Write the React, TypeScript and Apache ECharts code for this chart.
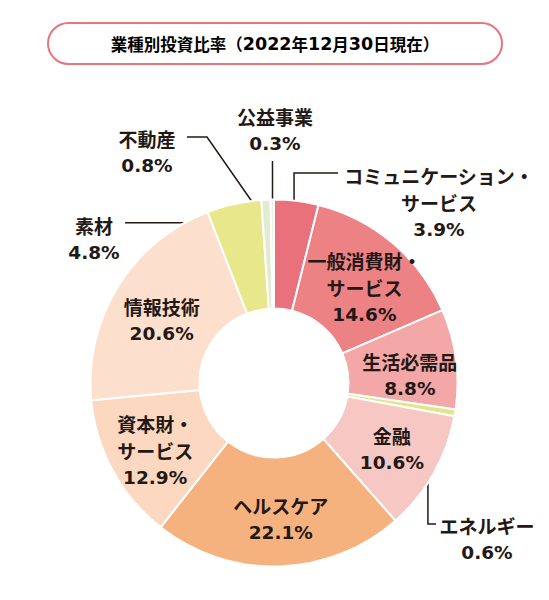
import React, { useEffect, useRef } from "react";
import * as echarts from "echarts";

const categories = [
  "コミュニケーション・\nサービス",
  "一般消費財・\nサービス",
  "生活必需品",
  "エネルギー",
  "金融",
  "ヘルスケア",
  "資本財・\nサービス",
  "情報技術",
  "素材",
  "不動産",
  "公益事業",
];
const values = [3.9, 14.6, 8.8, 0.6, 10.6, 22.1, 12.9, 20.6, 4.8, 0.8, 0.3];
const colors = [
  "#E9717B",
  "#ED8285",
  "#F3A7A7",
  "#E6E48A",
  "#F7C7C4",
  "#F5B27F",
  "#FBD8BF",
  "#FCE0CD",
  "#E9E78C",
  "#E1EBD2",
  "#E9F0DE",
];
const titleParts = ["業種別投資比率（", "2022", "年", "12", "月", "30", "日現在）"];

const CX = 274;
const CY = 383;
const R_IN = 74.5;
const R_OUT = 183.5;
const INK = "#231815";

export default function App() {
  const ref = useRef<HTMLDivElement>(null);

  useEffect(() => {
    if (!ref.current) return;
    const chart = echarts.init(ref.current, null, { renderer: "svg" });

    const total = values.reduce((a, b) => a + b, 0);
    const starts: number[] = [];
    let acc = 0;
    values.forEach((v) => {
      starts.push(acc);
      acc += v;
    });
    const polar = (pct: number, r: number): [number, number] => {
      const a = (pct / total) * Math.PI * 2;
      return [CX + r * Math.sin(a), CY - r * Math.cos(a)];
    };
    const mid = (i: number) => starts[i] + values[i] / 2;

    const outside: Record<number, any> = {
      0: (() => {
        const p = polar(mid(0), 164);
        return { x: 439, y: 202, pts: [p, [p[0], 173], [338, 173]] };
      })(),
      3: (() => {
        const p = polar(mid(3), 156);
        return { x: 487, y: 539, pts: [p, [p[0], 524], [436, 524]] };
      })(),
      8: (() => {
        const p = polar(starts[8] + values[8] * 0.1, 170);
        return { x: 94, y: 238.5, pts: [p, [170, p[1]], [125, p[1]]] };
      })(),
      9: (() => {
        const p = polar(mid(9), 160);
        return { x: 147, y: 151.5, pts: [p, [207, 137], [187, 137]] };
      })(),
      10: (() => {
        const p = polar(mid(10), 160);
        return { x: 275, y: 130, pts: [p, [p[0], 180], [p[0], 161]] };
      })(),
    };
    const insideShift: Record<number, [number, number]> = {
      1: [5, 5],
      2: [5, 9],
      4: [3, 1],
      5: [3, 4],
      6: [-3, 4],
      7: [0, 6],
    };

    const rich = {
      n: {
        fontFamily: "Noto Sans CJK JP",
        fontWeight: "bold",
        fontSize: 19,
        lineHeight: 27,
        color: INK,
      },
      v: {
        fontFamily: "DejaVu Sans",
        fontWeight: "bold",
        fontSize: 18.5,
        lineHeight: 27,
        color: INK,
      },
    };

    const titleRich = {
      a: {
        fontFamily: "Noto Sans CJK JP",
        fontWeight: "bold",
        fontSize: 16.5,
        color: INK,
      },
      b: {
        fontFamily: "DejaVu Sans",
        fontWeight: "bold",
        fontSize: 17.5,
        color: INK,
      },
    };
    const titleText = titleParts
      .map((t) => (/^\d+$/.test(t) ? `{b|${t}}` : `{a|${t}}`))
      .join("");

    chart.setOption({
      animation: false,
      graphic: [
        {
          type: "rect",
          shape: { x: 48, y: 23, width: 454, height: 41, r: 20.5 },
          style: { fill: "#fff", stroke: "#E8747C", lineWidth: 2 },
          silent: true,
        },
        {
          type: "text",
          x: 275,
          y: 44,
          style: {
            text: titleText,
            rich: titleRich,
            align: "center",
            verticalAlign: "middle",
          },
          silent: true,
        },
      ],
      series: [
        {
          type: "pie",
          center: [CX, CY],
          radius: [R_IN, R_OUT],
          startAngle: 90,
          clockwise: true,
          avoidLabelOverlap: false,
          silent: true,
          itemStyle: { borderColor: "#fff", borderWidth: 2 },
          label: {
            show: true,
            position: "inside",
            formatter: (p: any) => `{n|${p.name}}\n{v|${p.value.toFixed(1)}%}`,
            rich,
          },
          labelLine: { show: false },
          labelLayout: (params: any) => {
            const i = params.dataIndex;
            if (outside[i]) {
              const o = outside[i];
              return {
                x: o.x,
                y: o.y,
                align: "center",
                verticalAlign: "middle",
                labelLinePoints: o.pts,
              };
            }
            const s = insideShift[i] || [0, 0];
            return { dx: s[0], dy: s[1] };
          },
          data: categories.map((name, i) => {
            const item: any = {
              name,
              value: values[i],
              itemStyle: { color: colors[i] },
            };
            if (outside[i]) {
              item.label = { position: "outside" };
              item.labelLine = {
                show: true,
                length: 10,
                length2: 10,
                lineStyle: { color: INK, width: 1.5 },
              };
            }
            return item;
          }),
        },
      ],
    });

    return () => chart.dispose();
  }, []);

  return (
    <div
      ref={ref}
      style={{ position: "absolute", left: 0, top: 0, width: 549, height: 600 }}
    />
  );
}
